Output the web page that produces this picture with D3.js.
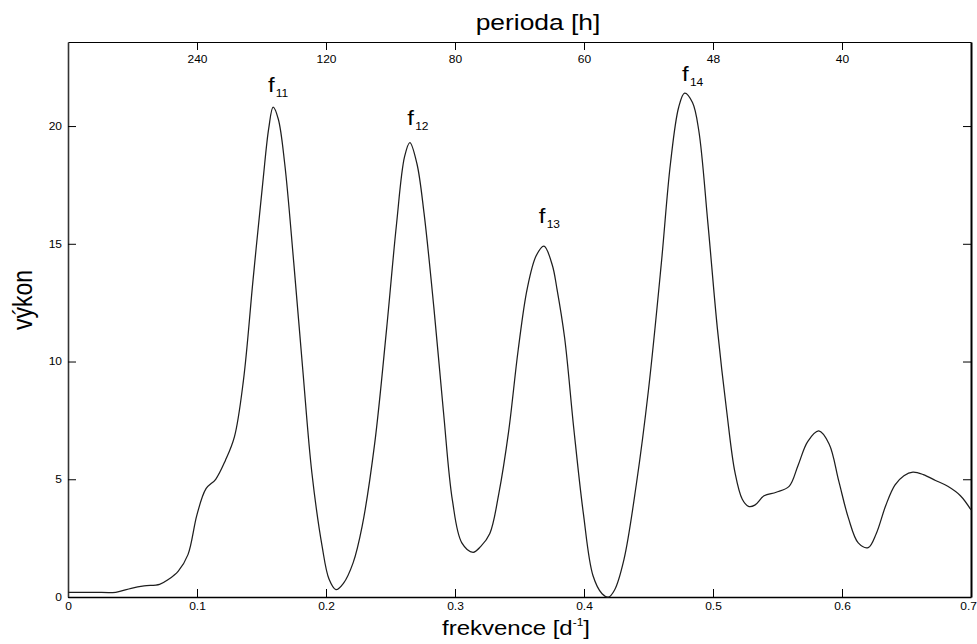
<!DOCTYPE html>
<html>
<head>
<meta charset="utf-8">
<script src="https://cdn.jsdelivr.net/npm/d3@7"></script>
<style>
  html, body { margin: 0; padding: 0; background: #fff; }
  svg { display: block; font-family: "Liberation Sans", Arial, sans-serif; }
</style>
</head>
<body>
<script>
// ---- data ----
const freq = [0.000, 0.020, 0.037, 0.049, 0.059, 0.071, 0.078, 0.0855, 0.093, 0.100,
  0.107, 0.1145, 0.122, 0.129, 0.136, 0.1435, 0.151, 0.1556, 0.159, 0.163,
  0.168, 0.175, 0.182, 0.189, 0.197, 0.2024, 0.2077, 0.2135, 0.221, 0.228,
  0.2377, 0.247, 0.2546, 0.2609, 0.265, 0.2705, 0.276, 0.2836, 0.291, 0.298,
  0.3053, 0.314, 0.320, 0.327, 0.334, 0.3415, 0.349, 0.356, 0.363, 0.369,
  0.3754, 0.379, 0.385, 0.392, 0.3995, 0.407, 0.414, 0.419, 0.4237, 0.431,
  0.4406, 0.450, 0.460, 0.467, 0.4734, 0.478, 0.4841, 0.489, 0.496, 0.5034,
  0.5106, 0.517, 0.5227, 0.5275, 0.5324, 0.5396, 0.549, 0.559, 0.566, 0.5734,
  0.582, 0.590, 0.5976, 0.605, 0.6126, 0.6203, 0.6266, 0.634, 0.641, 0.648,
  0.655, 0.663, 0.6725, 0.682, 0.6918, 0.700];
const power = [0.20, 0.20, 0.20, 0.37, 0.47, 0.54, 0.75, 1.1, 1.8, 3.5,
  4.6, 5.0, 5.8, 6.8, 9.2, 13.5, 17.6, 19.9, 20.8, 20.3,
  18.4, 14.2, 9.65, 5.3, 2.15, 0.75, 0.31, 0.58, 1.45, 3.0,
  6.5, 11.4, 15.8, 18.7, 19.3, 18.4, 16.3, 12.3, 7.9, 4.1,
  2.3, 1.9, 2.15, 2.7, 4.4, 7.0, 10.5, 13.1, 14.5, 14.9,
  14.1, 13.1, 11.0, 7.2, 3.55, 0.9, 0.14, 0.0, 0.3, 1.6,
  4.8, 8.8, 14.2, 18.4, 20.8, 21.4, 21.0, 19.8, 15.9, 11.4,
  7.9, 5.3, 4.15, 3.85, 3.9, 4.3, 4.45, 4.7, 5.6, 6.6,
  7.05, 6.5, 4.9, 3.35, 2.3, 2.1, 2.7, 3.9, 4.75, 5.15,
  5.3, 5.2, 4.95, 4.7, 4.3, 3.7];

const freqTicks = [0, 0.1, 0.2, 0.3, 0.4, 0.5, 0.6, 0.7];
const freqTickLabels = ["0", "0.1", "0.2", "0.3", "0.4", "0.5", "0.6", "0.7"];
const powerTicks = [0, 5, 10, 15, 20];
const periodTicks = [240, 120, 80, 60, 48, 40];   // hours; frequency = 24 / period

const peakNames = ["11", "12", "13", "14"];
const peakLabelFreq = [0.155, 0.263, 0.365, 0.476];
const peakLabelPower = [21.44, 20.04, 15.88, 21.9];

const titleText = "perioda [h]";
const xLabelText = "frekvence [d";
const yLabelText = "výkon";

// ---- layout ----
const W = 977, H = 644;
const svg = d3.select("body").append("svg").attr("width", W).attr("height", H);
svg.append("rect").attr("width", W).attr("height", H).attr("fill", "#fff");

const x = d3.scaleLinear().domain([0, 0.7]).range([68, 971]);
const y = d3.scaleLinear().domain([0, 23.57]).range([597, 42]);

function styleTickText(sel, xOff) {
  sel.selectAll("text")
    .attr("font-size", 10)
    .attr("fill", "#000")
    .attr("font-family", "Liberation Sans, Arial, sans-serif")
    .attr("transform", "scale(1.2,1)");
  if (xOff !== undefined) sel.selectAll("text").attr("x", xOff);
  sel.selectAll(".tick line").attr("stroke", "#000").attr("stroke-width", 1);
}

// bottom axis
const gB = svg.append("g").attr("transform", "translate(0,597)")
  .call(d3.axisBottom(x).tickValues(freqTicks)
    .tickFormat((d, i) => freqTickLabels[i])
    .tickSizeInner(-8).tickSizeOuter(0).tickPadding(6));
styleTickText(gB);
// keep the last label inside the window edge
gB.selectAll(".tick text").filter(d => d === freqTicks[freqTicks.length - 1])
  .attr("text-anchor", "end").attr("x", 4.5);
gB.select(".domain").attr("stroke", "#000").attr("stroke-width", 1.5);

// left axis
const gL = svg.append("g").attr("transform", "translate(68,0)")
  .call(d3.axisLeft(y).tickValues(powerTicks)
    .tickSizeInner(-8).tickSizeOuter(0).tickPadding(6));
styleTickText(gL, -5);
gL.select(".domain").attr("stroke", "#333").attr("stroke-width", 1.6);

// top axis (period)
const gT = svg.append("g").attr("transform", "translate(0,42)")
  .call(d3.axisTop(x).tickValues(periodTicks.map(p => 24 / p))
    .tickFormat(f => String(Math.round(24 / f)))
    .tickSizeInner(-8).tickSizeOuter(0));
styleTickText(gT);
gT.selectAll("text").attr("y", 21).attr("dy", 0);
gT.select(".domain").attr("stroke", "#000").attr("stroke-width", 1.2);

// right axis
const gR = svg.append("g").attr("transform", "translate(971,0)")
  .call(d3.axisRight(y).tickValues(powerTicks).tickFormat("")
    .tickSizeInner(-8).tickSizeOuter(0));
styleTickText(gR);
gR.select(".domain").attr("stroke", "#000").attr("stroke-width", 2);

// curve
const line = d3.line()
  .x(i => x(freq[i]))
  .y(i => y(power[i]))
  .curve(d3.curveCatmullRom.alpha(0.5));
svg.append("path")
  .attr("d", line(d3.range(freq.length)))
  .attr("fill", "none")
  .attr("stroke", "#1e1e1e")
  .attr("stroke-width", 1.25);

// peak labels
peakNames.forEach((name, i) => {
  const g = svg.append("g")
    .attr("transform", `translate(${x(peakLabelFreq[i])},${y(peakLabelPower[i])}) scale(1.2,1)`);
  const t = g.append("text").attr("fill", "#000");
  t.append("tspan").attr("font-size", 20).text("f");
  t.append("tspan").attr("font-size", 10).attr("dy", 5).attr("dx", 1).text(name);
});

// title
svg.append("text")
  .attr("transform", "translate(538,30) scale(1.2,1)")
  .attr("text-anchor", "middle").attr("font-size", 22).attr("fill", "#000")
  .text(titleText);

// x label
const xl = svg.append("text")
  .attr("transform", "translate(516,635) scale(1.2,1)")
  .attr("text-anchor", "middle").attr("font-size", 20).attr("fill", "#000");
xl.append("tspan").text(xLabelText);
xl.append("tspan").attr("font-size", 10).attr("dy", -9).text("-1");
xl.append("tspan").attr("dy", 9).text("]");

// y label
svg.append("text")
  .attr("transform", "translate(32,300) rotate(-90) scale(1,1.2)")
  .attr("text-anchor", "middle").attr("font-size", 23).attr("fill", "#000")
  .text(yLabelText);
</script>
</body>
</html>
